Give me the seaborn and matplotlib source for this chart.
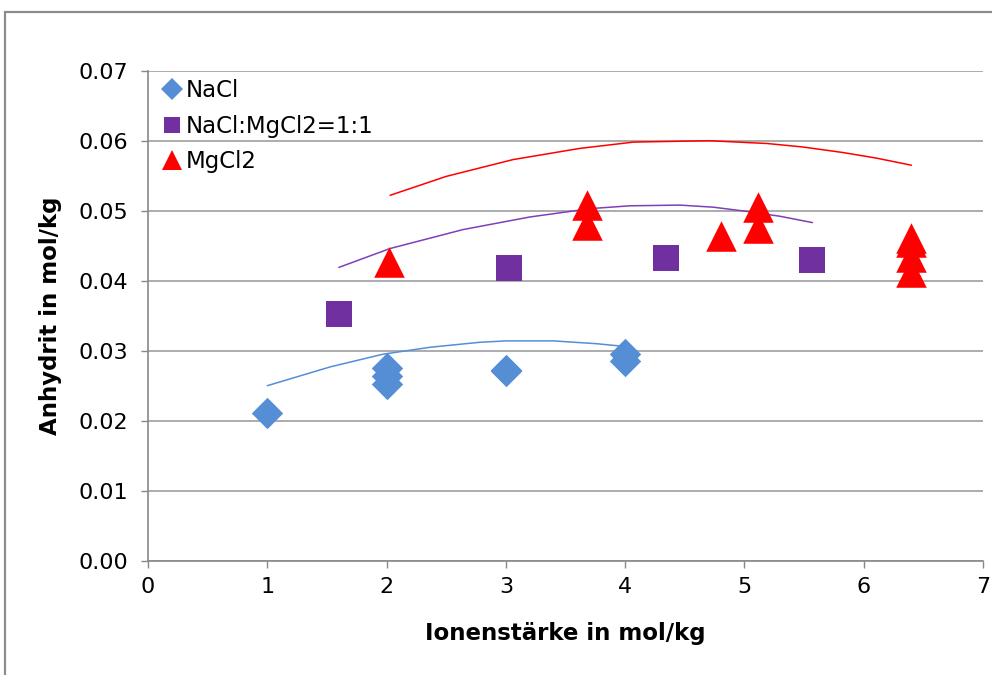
import matplotlib
matplotlib.use("Agg")
import numpy as np
import pandas as pd
import seaborn as sns
import matplotlib.pyplot as plt
from matplotlib.lines import Line2D
from matplotlib.patches import Rectangle

# Measured anhydrite solubility
series_names = ["NaCl", "NaCl:MgCl2=1:1", "MgCl2"]
series_colors = ["#558ED5", "#7030A0", "#FF0000"]
line_colors = ["#558ED5", "#7F3FB8", "#FF0000"]
series_markers = ["D", "s", "^"]

nacl_x = [1.00, 2.00, 2.00, 2.00, 3.00, 3.00, 4.00, 4.00]
nacl_y = [0.0211, 0.0276, 0.0264, 0.0252, 0.0273, 0.0271, 0.0295, 0.0286]

mix_x = [1.60, 3.03, 4.34, 5.57]
mix_y = [0.0353, 0.0418, 0.0432, 0.0430]

mg_x = [2.02, 3.68, 3.68, 4.80, 5.11, 5.11, 6.40, 6.40, 6.40, 6.40]
mg_y = [0.0427, 0.0508, 0.0480, 0.0464, 0.0506, 0.0475, 0.0461, 0.0455, 0.0434, 0.0412]

# Calculated solubility curves
nacl_curve_x = [1.00, 1.53, 1.97, 2.37, 2.78, 3.00, 3.40, 3.76, 4.00]
nacl_curve_y = [0.0250, 0.0277, 0.0295, 0.0305, 0.0312, 0.0314, 0.0314, 0.0310, 0.0306]

mix_curve_x = [1.60, 2.03, 2.64, 3.20, 3.71, 4.04, 4.46, 4.74, 5.02, 5.30, 5.57]
mix_curve_y = [0.0419, 0.0446, 0.0473, 0.0491, 0.0503, 0.0507, 0.0508, 0.0505, 0.0499, 0.0492, 0.0483]

mg_curve_x = [2.03, 2.50, 3.06, 3.62, 4.07, 4.70, 5.19, 5.49, 5.83, 6.11, 6.40]
mg_curve_y = [0.0522, 0.0549, 0.0573, 0.0589, 0.0598, 0.0600, 0.0596, 0.0591, 0.0583, 0.0575, 0.0565]

x_ticks = [0, 1, 2, 3, 4, 5, 6, 7]
y_ticks = [0.00, 0.01, 0.02, 0.03, 0.04, 0.05, 0.06, 0.07]

points = pd.concat([
    pd.DataFrame({"I": nacl_x, "c": nacl_y, "Serie": series_names[0]}),
    pd.DataFrame({"I": mix_x, "c": mix_y, "Serie": series_names[1]}),
    pd.DataFrame({"I": mg_x, "c": mg_y, "Serie": series_names[2]}),
], ignore_index=True)

curves = pd.concat([
    pd.DataFrame({"I": nacl_curve_x, "c": nacl_curve_y, "Serie": series_names[0]}),
    pd.DataFrame({"I": mix_curve_x, "c": mix_curve_y, "Serie": series_names[1]}),
    pd.DataFrame({"I": mg_curve_x, "c": mg_curve_y, "Serie": series_names[2]}),
], ignore_index=True)

sns.set_style("white")
plt.rcParams["font.family"] = ["DejaVu Sans"]
plt.rcParams["text.color"] = "black"
plt.rcParams["axes.labelcolor"] = "black"

fig = plt.figure(figsize=(9.92, 6.75), dpi=100)
ax = fig.add_axes([148 / 992, 1 - 560.7 / 675, 835 / 992, 490 / 675])

sns.lineplot(data=curves, x="I", y="c", hue="Serie", hue_order=series_names,
             palette=dict(zip(series_names, line_colors)), sort=False,
             estimator=None, units="Serie", linewidth=1.1, legend=False, ax=ax, zorder=3)

marker_sizes = {"NaCl": 16.0, "NaCl:MgCl2=1:1": 19.0, "MgCl2": 22.0}
for name, color, marker in zip(series_names, series_colors, series_markers):
    sub = points[points["Serie"] == name]
    sns.scatterplot(data=sub, x="I", y="c", color=color, marker=marker,
                    s=marker_sizes[name] ** 2, linewidth=0, legend=False, ax=ax, zorder=4)

ax.set_xlim(0, 7)
ax.set_ylim(0, 0.07)
ax.set_xticks(x_ticks)
ax.set_yticks(y_ticks)
ax.set_xticklabels([str(t) for t in x_ticks])
ax.set_yticklabels([f"{t:.2f}" for t in y_ticks])
ax.tick_params(axis="both", labelsize=16, labelcolor="black", length=5,
               width=1.0, direction="out")
ax.tick_params(axis="x", bottom=True, color="#888888", pad=7)
ax.tick_params(axis="y", left=True, color="#888888", pad=9)

ax.yaxis.grid(True, color="#A6A6A6", linewidth=1.3)
ax.xaxis.grid(False)
ax.set_axisbelow(True)
for side in ["top", "right"]:
    ax.spines[side].set_visible(False)
for side in ["left", "bottom"]:
    ax.spines[side].set_color("#888888")
    ax.spines[side].set_linewidth(1.2)

ax.set_xlabel("Ionenstärke in mol/kg", fontsize=16.5, fontweight="bold",
              labelpad=18, color="black")
ax.set_ylabel("Anhydrit in mol/kg", fontsize=16.5, fontweight="bold",
              labelpad=12, color="black")

handles = [Line2D([], [], linestyle="none", marker=m, color=c, markeredgewidth=0,
                  markersize=ms)
           for m, c, ms in zip(series_markers, series_colors, [11, 12, 15])]
leg = ax.legend(handles, series_names, loc="upper left", bbox_to_anchor=(0.018, 0.983),
                frameon=False, fontsize=16.5, handlelength=0.8, handletextpad=0.2,
                labelspacing=0.55, borderaxespad=0, borderpad=0)
for t in leg.get_texts():
    t.set_color("black")

# outer chart frame
fig.patches.append(Rectangle((5 / 992, -0.1), 1.2, 1.1 - 12 / 675,
                             transform=fig.transFigure, fill=False,
                             edgecolor="#8C8C8C", linewidth=1.6))

fig.savefig("out.png", dpi=100)
